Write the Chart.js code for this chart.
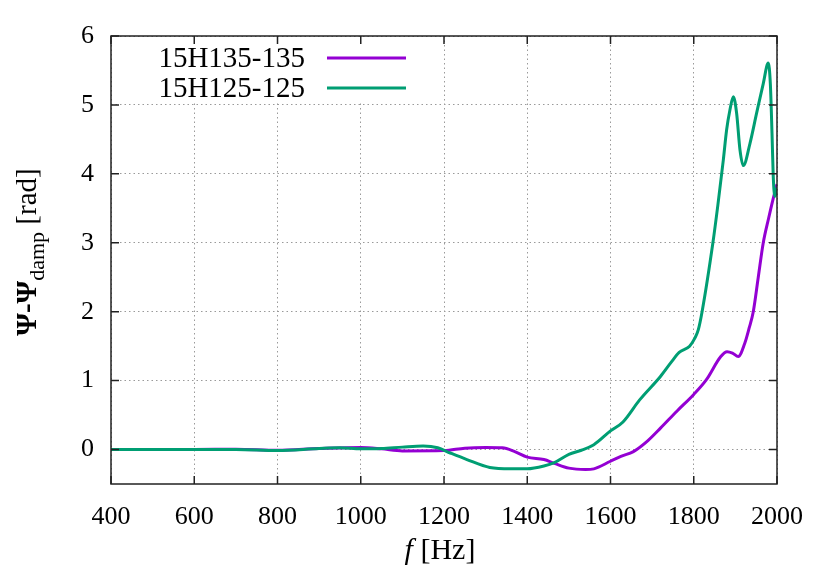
<!DOCTYPE html>
<html>
<head>
<meta charset="utf-8">
<script src="https://cdn.jsdelivr.net/npm/chart.js@4"></script>
<style>
  html, body { margin: 0; padding: 0; background: #fff; }
</style>
</head>
<body>
<canvas id="chart" width="830" height="581"></canvas>
<script>
const xTicks = [400, 600, 800, 1000, 1200, 1400, 1600, 1800, 2000]
const yTicks = [0, 1, 2, 3, 4, 5, 6]
const seriesNames = ['15H135-135', '15H125-125']
const seriesColors = ['#9400d3', '#009e73']

// 15H135-135
const f135 = [400, 500, 600, 700, 800, 900, 1000, 1050, 1100, 1200, 1250, 1300, 1340, 1370, 1400, 1440, 1465, 1500, 1540, 1560,
  1600, 1625, 1655, 1690, 1720, 1760, 1800, 1830, 1865, 1880, 1893, 1907, 1923, 1933, 1943, 1955, 1967, 1980, 1990, 2000]
const psi135 = [0.0, 0.0, 0.0, 0.005, -0.01, 0.015, 0.03, 0.01, -0.02, -0.015, 0.02, 0.03, 0.025, -0.03, -0.11, -0.145, -0.2, -0.27, -0.29, -0.28,
  -0.17, -0.1, -0.03, 0.13, 0.31, 0.56, 0.8, 1.01, 1.35, 1.42, 1.4, 1.35, 1.55, 1.76, 2.0, 2.5, 3.0, 3.36, 3.62, 3.85]

// 15H125-125
const f125 = [400, 500, 600, 700, 800, 900, 950, 1000, 1050, 1100, 1150, 1185, 1215, 1255, 1310, 1360, 1400, 1440, 1465, 1500,
  1530, 1560, 1600, 1630, 1670, 1720, 1745, 1765, 1790, 1803, 1811, 1820, 1846, 1858, 1871, 1879, 1887, 1895, 1903, 1911,
  1919, 1935, 1951, 1967, 1979, 1984, 1988, 1991, 1995, 2000]
const psi125 = [0.0, 0.0, 0.0, 0.0, -0.015, 0.015, 0.025, 0.01, 0.015, 0.035, 0.05, 0.025, -0.05, -0.145, -0.26, -0.28, -0.28, -0.24, -0.19, -0.07,
  -0.01, 0.07, 0.27, 0.4, 0.72, 1.06, 1.26, 1.41, 1.5, 1.62, 1.74, 2.0, 3.0, 3.55, 4.2, 4.64, 4.93, 5.12, 4.88, 4.35,
  4.12, 4.44, 4.88, 5.31, 5.61, 5.31, 4.59, 3.96, 3.67, 3.8]

const serif = "'Liberation Serif', 'DejaVu Serif', serif"

const toPoints = (fs, ps) => fs.map((f, i) => ({ x: f, y: ps[i] }))

const gnuplotLook = {
  id: 'gnuplotLook',
  beforeDatasetsDraw(chart) {
    const { ctx, chartArea: a } = chart
    // legend box hides the grid
    ctx.save()
    ctx.fillStyle = '#fff'
    ctx.fillRect(a.left + 1, a.top + 1, 420 - a.left, 102 - a.top)
    ctx.restore()
  },
  afterDatasetsDraw(chart) {
    const { ctx, chartArea: a, scales: { x, y } } = chart
    ctx.save()

    // frame and inward ticks
    ctx.strokeStyle = '#222'
    ctx.lineWidth = 1.5
    ctx.strokeRect(a.left, a.top, a.right - a.left, a.bottom - a.top)
    ctx.beginPath()
    xTicks.forEach(v => {
      const px = x.getPixelForValue(v)
      ctx.moveTo(px, a.bottom); ctx.lineTo(px, a.bottom - 8)
      ctx.moveTo(px, a.top); ctx.lineTo(px, a.top + 8)
    })
    yTicks.forEach(v => {
      const py = y.getPixelForValue(v)
      ctx.moveTo(a.left, py); ctx.lineTo(a.left + 8, py)
      ctx.moveTo(a.right, py); ctx.lineTo(a.right - 8, py)
    })
    ctx.stroke()

    // legend
    ctx.font = '29px ' + serif
    ctx.fillStyle = '#000'
    ctx.textAlign = 'right'
    ctx.textBaseline = 'middle'
    chart.data.datasets.forEach((ds, i) => {
      const ly = 58 + i * 30
      ctx.fillText(ds.label, 305, ly + 1)
      ctx.strokeStyle = ds.borderColor
      ctx.lineWidth = 3
      ctx.beginPath()
      ctx.moveTo(327, ly)
      ctx.lineTo(406, ly)
      ctx.stroke()
    })

    // x title: f [Hz]
    ctx.textBaseline = 'alphabetic'
    ctx.textAlign = 'left'
    ctx.font = 'italic 30px ' + serif
    const wf = ctx.measureText('f').width
    ctx.font = '30px ' + serif
    const wr = ctx.measureText(' [Hz]').width
    const cx = (a.left + a.right) / 2 - 4
    const sx = cx - (wf + wr) / 2
    ctx.font = 'italic 30px ' + serif
    ctx.fillText('f', sx, 559)
    ctx.font = '30px ' + serif
    ctx.fillText(' [Hz]', sx + wf, 559)

    // y title: Ψ-Ψdamp [rad]
    ctx.translate(36, 252)
    ctx.rotate(-Math.PI / 2)
    const parts = [
      { t: 'Ψ-Ψ', f: 'bold 29px ' + serif, dy: 0 },
      { t: 'damp', f: '22px ' + serif, dy: 8 },
      { t: ' [rad]', f: '29px ' + serif, dy: 0 },
    ]
    let total = 0
    parts.forEach(p => { ctx.font = p.f; p.w = ctx.measureText(p.t).width; total += p.w })
    let tx = -total / 2
    parts.forEach(p => {
      ctx.font = p.f
      ctx.fillText(p.t, tx, p.dy)
      tx += p.w
    })
    ctx.restore()
  }
}

new Chart(document.getElementById('chart'), {
  type: 'line',
  data: {
    datasets: [
      {
        label: seriesNames[0],
        data: toPoints(f135, psi135),
        borderColor: seriesColors[0],
        backgroundColor: seriesColors[0],
        borderWidth: 3,
        pointRadius: 0,
        cubicInterpolationMode: 'monotone',
        order: 1,
      },
      {
        label: seriesNames[1],
        data: toPoints(f125, psi125),
        borderColor: seriesColors[1],
        backgroundColor: seriesColors[1],
        borderWidth: 3,
        pointRadius: 0,
        cubicInterpolationMode: 'monotone',
        order: 0,
      },
    ],
  },
  options: {
    responsive: false,
    animation: false,
    layout: { padding: { left: 0, right: 53, top: 36, bottom: 0 } },
    scales: {
      x: {
        type: 'linear',
        min: 400,
        max: 2000,
        afterFit: (s) => { s.height = 97 },
        afterBuildTicks: (s) => { s.ticks = xTicks.map(v => ({ value: v })) },
        grid: { color: '#9a9a9a', lineWidth: 1, drawTicks: false },
        border: { display: false, dash: [1.5, 3] },
        ticks: { color: '#000', font: { family: serif, size: 26 }, padding: 18, maxRotation: 0, callback: (v) => String(v) },
      },
      y: {
        type: 'linear',
        min: -0.5,
        max: 6,
        afterFit: (s) => { s.width = 111 },
        afterBuildTicks: (s) => { s.ticks = yTicks.map(v => ({ value: v })) },
        grid: { color: '#9a9a9a', lineWidth: 1, drawTicks: false },
        border: { display: false, dash: [1.5, 3] },
        ticks: { color: '#000', font: { family: serif, size: 26 }, padding: 17, callback: (v) => String(v) },
      },
    },
    plugins: {
      legend: { display: false },
      tooltip: { enabled: false },
    },
  },
  plugins: [gnuplotLook],
})
</script>
</body>
</html>
